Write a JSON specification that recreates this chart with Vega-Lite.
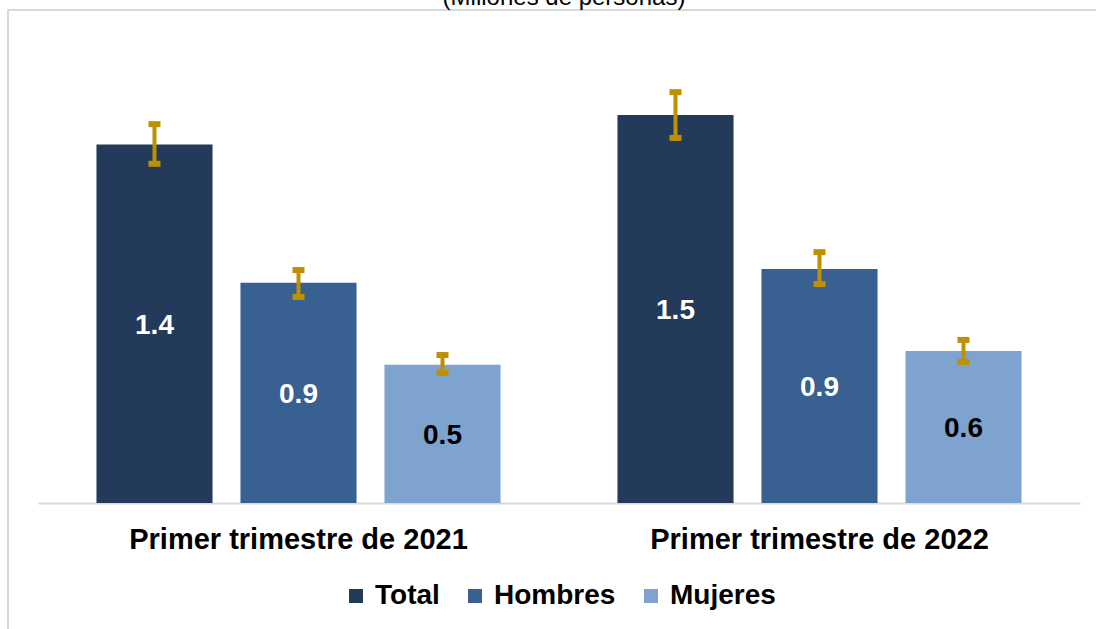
{
  "$schema": "https://vega.github.io/schema/vega-lite/v6.json",
  "autosize": {"type": "none"},
  "width": 1096,
  "height": 625,
  "padding": {"left": 8, "top": 10, "right": -8, "bottom": -6},
  "background": "white",
  "title": {
    "text": "(Millones de personas)",
    "font": "Liberation Sans",
    "fontSize": 24,
    "fontWeight": "normal",
    "color": "black",
    "anchor": "middle",
    "frame": "group",
    "baseline": "alphabetic",
    "offset": 0,
    "dx": 8,
    "dy": 19
  },
  "config": {
    "view": {"stroke": "#D9D9D9", "strokeWidth": 2},
    "font": "Liberation Sans"
  },
  "data": {
    "values": [
      {"periodo": "Primer trimestre de 2021", "sexo": "Total", "valor": 1.40, "lo": 1.325, "hi": 1.480},
      {"periodo": "Primer trimestre de 2021", "sexo": "Hombres", "valor": 0.86, "lo": 0.805, "hi": 0.910},
      {"periodo": "Primer trimestre de 2021", "sexo": "Mujeres", "valor": 0.54, "lo": 0.508, "hi": 0.578},
      {"periodo": "Primer trimestre de 2022", "sexo": "Total", "valor": 1.516, "lo": 1.426, "hi": 1.605},
      {"periodo": "Primer trimestre de 2022", "sexo": "Hombres", "valor": 0.914, "lo": 0.855, "hi": 0.980},
      {"periodo": "Primer trimestre de 2022", "sexo": "Mujeres", "valor": 0.594, "lo": 0.551, "hi": 0.637}
    ]
  },
  "encoding": {
    "x": {
      "field": "periodo",
      "type": "nominal",
      "sort": null,
      "scale": {"range": [30, 1072], "paddingInner": 0, "paddingOuter": 0},
      "axis": {
        "title": null,
        "orient": "bottom",
        "offset": -132,
        "domain": true,
        "domainColor": "#D9D9D9",
        "domainWidth": 2,
        "ticks": false,
        "grid": false,
        "labelAngle": 0,
        "labelFont": "Liberation Sans",
        "labelFontSize": 29,
        "labelFontWeight": "bold",
        "labelColor": "black",
        "labelBaseline": "alphabetic",
        "labelPadding": 45,
        "labelLimit": 0
      }
    },
    "xOffset": {
      "field": "sexo",
      "type": "nominal",
      "sort": ["Total", "Hombres", "Mujeres"],
      "scale": {"paddingInner": 0.194, "paddingOuter": 0.406}
    }
  },
  "layer": [
    {
      "mark": {"type": "bar"},
      "encoding": {
        "y": {
          "field": "valor",
          "type": "quantitative",
          "scale": {"domain": [-0.515625, 1.92578], "nice": false, "zero": false},
          "axis": null
        },
        "y2": {"datum": 0},
        "color": {
          "field": "sexo",
          "type": "nominal",
          "sort": ["Total", "Hombres", "Mujeres"],
          "scale": {"domain": ["Total", "Hombres", "Mujeres"], "range": ["#233A5A", "#386090", "#7EA3CF"]},
          "legend": {
            "title": null,
            "orient": "none",
            "direction": "horizontal",
            "legendX": 334,
            "legendY": 572,
            "padding": 0,
            "symbolType": "square",
            "symbolSize": 196,
            "symbolStrokeWidth": 0,
            "labelFont": "Liberation Sans",
            "labelFontSize": 28,
            "labelFontWeight": "bold",
            "labelColor": "black",
            "labelOffset": 5,
            "columnPadding": 21,
            "labelLimit": 0
          }
        }
      }
    },
    {
      "mark": {"type": "rule", "color": "#BF9000", "strokeWidth": 4},
      "encoding": {
        "y": {
          "field": "lo",
          "type": "quantitative",
          "scale": {"domain": [-0.515625, 1.92578], "nice": false, "zero": false},
          "axis": null
        },
        "y2": {"field": "hi"}
      }
    },
    {
      "mark": {"type": "tick", "color": "#BF9000", "size": 12, "thickness": 6, "opacity": 1},
      "encoding": {
        "y": {
          "field": "lo",
          "type": "quantitative",
          "scale": {"domain": [-0.515625, 1.92578], "nice": false, "zero": false},
          "axis": null
        }
      }
    },
    {
      "mark": {"type": "tick", "color": "#BF9000", "size": 12, "thickness": 6, "opacity": 1},
      "encoding": {
        "y": {
          "field": "hi",
          "type": "quantitative",
          "scale": {"domain": [-0.515625, 1.92578], "nice": false, "zero": false},
          "axis": null
        }
      }
    },
    {
      "mark": {"type": "text", "font": "Liberation Sans", "fontSize": 28, "fontWeight": "bold", "baseline": "middle", "dy": 2},
      "encoding": {
        "y": {
          "field": "valor",
          "type": "quantitative",
          "scale": {"domain": [-1.03125, 3.85156], "nice": false, "zero": false},
          "axis": null
        },
        "text": {"field": "valor", "type": "quantitative", "format": ".1f"},
        "color": {
          "condition": {"test": "datum.sexo === 'Mujeres'", "value": "black"},
          "value": "white"
        }
      }
    }
  ],
  "resolve": {"scale": {"y": "independent"}}
}
